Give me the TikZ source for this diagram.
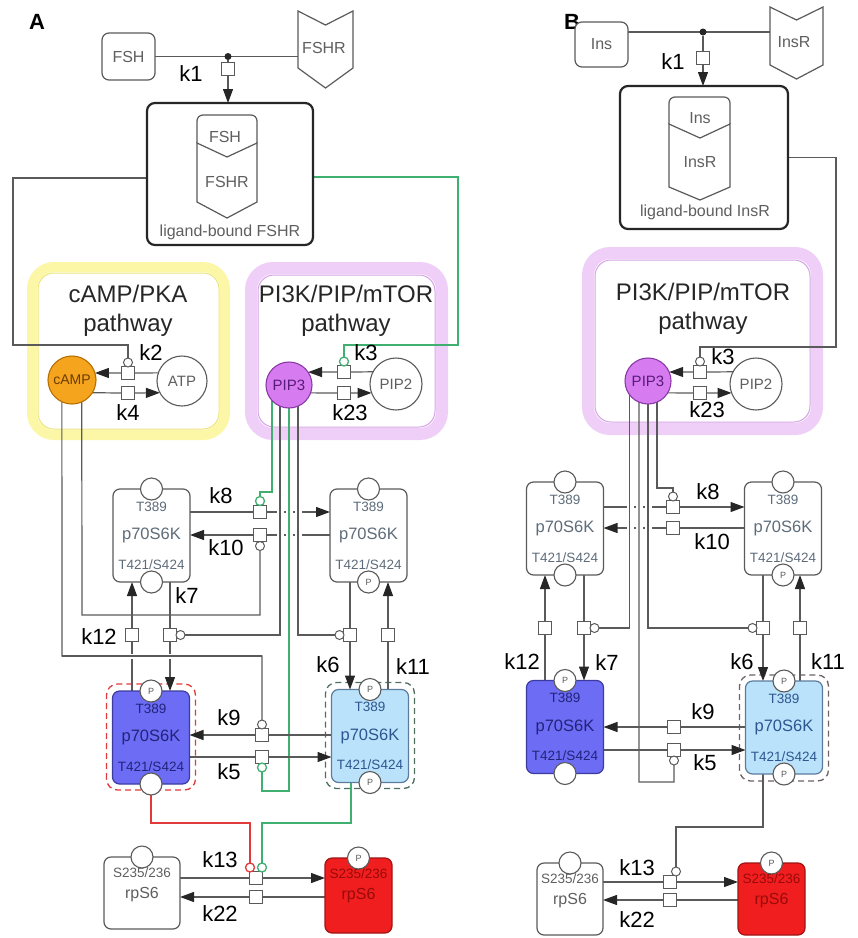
\documentclass[tikz,border=0pt]{standalone}
\usepackage{fontspec}
\setmainfont{Liberation Sans}
\usetikzlibrary{arrows.meta}
\pgfdeclarelayer{bgl}
\pgfdeclarelayer{edges}
\pgfsetlayers{bgl,edges,main}
\definecolor{ln}{HTML}{5A5A5A}
\definecolor{tx}{HTML}{5F5F5F}
\definecolor{kgt}{HTML}{5E6C7A}
\definecolor{gr}{HTML}{40B070}
\definecolor{rd}{HTML}{E03A3A}
\definecolor{orng}{HTML}{F5A41E}
\definecolor{orngd}{HTML}{B86E00}
\definecolor{orngt}{HTML}{6B3D00}
\definecolor{vio}{HTML}{D67CF0}
\definecolor{viod}{HTML}{8A3AA6}
\definecolor{viot}{HTML}{5A1A7A}
\definecolor{dblue}{HTML}{6C6CF4}
\definecolor{dblued}{HTML}{3C3CA0}
\definecolor{dbluet}{HTML}{23237A}
\definecolor{lblue}{HTML}{BAE3FB}
\definecolor{lblued}{HTML}{5C7C9C}
\definecolor{lbluet}{HTML}{2D5590}
\definecolor{rpred}{HTML}{F01E1E}
\definecolor{rpredd}{HTML}{A01414}
\definecolor{rpredt}{HTML}{9A0A0A}
\definecolor{ylband}{HTML}{FBF7A6}
\definecolor{ylline}{HTML}{EDE47A}
\definecolor{puband}{HTML}{EFCFF7}
\definecolor{puline}{HTML}{D3A1E4}
\definecolor{dashA}{HTML}{4E6E5E}
\definecolor{dashB}{HTML}{6E6262}

\newcommand{\kinbox}[8]{%
  \node[kbox,fill=#4,draw=#5,text=#6] (#1) at (#2,#3) {p70S6K};
  \node[ksmall,text=#6] (#1-a) at ([yshift=-17.5pt]#1.north) {T389};
  \node[ksmall,text=#6] (#1-b) at ([yshift=17.5pt]#1.south) {T421/S424};
  \node[pc] (#1-t) at (#1.north) {#7};
  \node[pc] (#1-s) at (#1.south) {#8};
}

\begin{document}
\begin{tikzpicture}[x=1pt,y=-1pt,
  every node/.style={inner sep=0pt,outer sep=0pt},
  conn/.style={draw=ln,line width=1.2pt},
  gconn/.style={draw=gr,line width=1.6pt},
  rconn/.style={draw=rd,line width=1.6pt},
  arr/.style={-{Triangle[length=14pt,width=10pt,color=black!85]}},
  sq/.style={rectangle,draw=ln,fill=white,minimum size=13pt,line width=1pt},
  md/.style={circle,draw=ln,fill=white,minimum size=9pt,line width=1pt},
  kl/.style={font=\fontsize{22}{22}\selectfont,text=black},
  sbox/.style={rectangle,rounded corners=7pt,draw=ln,fill=white,line width=1.2pt,text=tx,font=\fontsize{16}{16}\selectfont},
  stxt/.style={text=tx,font=\fontsize{16}{16}\selectfont},
  lbox/.style={rectangle,rounded corners=8pt,draw=black!85,fill=white,line width=2.2pt},
  cplx/.style={draw=ln,fill=white,line width=1.2pt},
  sc/.style={circle,draw=ln,fill=white,line width=1.1pt,text=tx,font=\fontsize{15}{15}\selectfont},
  kbox/.style={rectangle,rounded corners=7pt,minimum width=77pt,minimum height=93pt,line width=1.2pt,font=\fontsize{16.5}{16.5}\selectfont},
  ksmall/.style={font=\fontsize{13.5}{13.5}\selectfont},
  pc/.style={circle,draw=ln,fill=white,minimum size=22pt,line width=1.1pt,font=\fontsize{9}{9}\selectfont,text=ln},
  cpt/.style={font=\fontsize{24}{29}\selectfont,text=black!85,align=center},
  panel/.style={font=\bfseries\fontsize{22}{22}\selectfont},
]
\useasboundingbox (0,0) rectangle (858,938);

% ---------------- compartments ----------------
\begin{pgfonlayer}{bgl}
\draw[draw=ylband,line width=10pt,rounded corners=22pt] (32,267) rectangle (225,435);
\draw[draw=ylline,line width=1pt,rounded corners=16pt] (38,273) rectangle (219,429);
\draw[draw=puband,line width=12pt,rounded corners=22pt] (251,268) rectangle (442,434);
\draw[draw=puline,line width=1pt,rounded corners=16pt] (258,275) rectangle (435,427);
\draw[draw=puband,line width=12pt,rounded corners=22pt] (588,253) rectangle (817,429);
\draw[draw=puline,line width=1pt,rounded corners=16pt] (595,260) rectangle (810,422);
\end{pgfonlayer}

% ================= PANEL A =================
\node[panel] (labA) at (37,22) {A};
\node[sbox,minimum width=53pt,minimum height=47pt] (fshA) at (128.5,56.5) {FSH};
\node[minimum width=55pt,minimum height=60pt] (fshrA) at (325.5,50) {};
\draw[cplx] (298,11) -- (325.5,25) -- (353,11) -- (353,68) -- (325.5,88) -- (298,68) -- cycle;
\node[stxt] (fshrAt) at (324,48) {FSHR};
\node[circle,fill=black!85,minimum size=7pt] (jA) at (228,56.5) {};
\node[sq] (k1A) at (228,69) {};
\node[kl] (k1Al) at (191,74) {k1};

\node[lbox,minimum width=166pt,minimum height=142pt] (lbA) at (230,174) {};
\draw[cplx,rounded corners=6pt] (197,143) -- (197,115) -- (257,115) -- (257,143);
\draw[cplx] (197,143) -- (227,157) -- (257,143) -- (257,202) -- (227,218) -- (197,202) -- cycle;
\node[stxt] (cfA1) at (225,137) {FSH};
\node[stxt] (cfA2) at (227,182) {FSHR};
\node[stxt] (lbAl) at (230,232) {ligand-bound FSHR};

\node[cpt] (cptA1) at (128,311) {cAMP/PKA\\pathway};
\node[cpt] (cptA2) at (346,311) {PI3K/PIP/mTOR\\pathway};

\node[sc,minimum size=48pt,fill=orng,draw=orngd,text=orngt,font=\fontsize{14}{14}\selectfont] (campA) at (72,380) {cAMP};
\node[sc,minimum size=50pt] (atpA) at (182,381) {ATP};
\node[sc,minimum size=46pt,fill=vio,draw=viod,text=viot] (pip3A) at (289,385) {PIP3};
\node[sc,minimum size=52pt] (pip2A) at (396,384) {PIP2};

\node[sq] (k2A) at (128,373) {};
\node[sq] (k4A) at (128,393) {};
\node[md] (k2mA) at (128,362.5) {};
\node[sq] (k3A) at (344,372) {};
\node[sq] (k23A) at (344,393) {};
\node[md,draw=gr,line width=1.3pt] (k3mA) at (344,361.5) {};
\node[kl] (k2Al) at (151,353) {k2};
\node[kl] (k4Al) at (128,413) {k4};
\node[kl] (k3Al) at (366,353) {k3};
\node[kl] (k23Al) at (350,413) {k23};

\kinbox{ulA}{151.5}{535.5}{white}{ln}{kgt}{}{}
\kinbox{urA}{368.5}{535.5}{white}{ln}{kgt}{}{P}
\kinbox{llA}{151}{737.5}{dblue}{dblued}{dbluet}{P}{}
\kinbox{lrA}{370}{736}{lblue}{lblued}{lbluet}{P}{P}

\node[sq] (k8A) at (260,512) {};
\node[sq] (k10A) at (260,535) {};
\node[md,draw=gr,line width=1.3pt] (k8mA) at (260,501) {};
\node[md] (k10mA) at (260,546) {};
\node[sq] (k12A) at (132,635) {};
\node[sq] (k7A) at (170,635) {};
\node[md] (k7mA) at (180.5,635) {};
\node[sq] (k6A) at (350,635) {};
\node[md] (k6mA) at (339.5,635) {};
\node[sq] (k11A) at (388,635) {};
\node[sq] (k9A) at (262,735) {};
\node[sq] (k5A) at (262,757) {};
\node[md] (k9mA) at (262,724.5) {};
\node[md,draw=gr,line width=1.3pt] (k5mA) at (262,767.5) {};

\node[kl] (k8Al) at (221,496) {k8};
\node[kl] (k10Al) at (226,548) {k10};
\node[kl] (k7Al) at (187,596) {k7};
\node[kl] (k12Al) at (99,637) {k12};
\node[kl] (k6Al) at (328,665) {k6};
\node[kl] (k11Al) at (413,667) {k11};
\node[kl] (k9Al) at (229,718) {k9};
\node[kl] (k5Al) at (229,772) {k5};

% rpS6 A
\node[rectangle,rounded corners=7pt,draw=ln,fill=white,line width=1.2pt,minimum width=76pt,minimum height=72pt] (rpwA) at (142,893) {};
\node[ksmall,text=tx] (rpwAa) at ([yshift=-16pt]rpwA.north) {S235/236};
\node[stxt] (rpwAb) at ([yshift=-38pt]rpwA.north) {rpS6};
\node[pc] (rpwAt) at (rpwA.north) {};
\node[rectangle,rounded corners=7pt,draw=rpredd,fill=rpred,line width=1.2pt,minimum width=67pt,minimum height=75pt] (rprA) at (358.5,895.5) {};
\node[ksmall,text=rpredt] (rprAa) at ([yshift=-16pt]rprA.north) {S235/236};
\node[stxt,text=rpredt] (rprAb) at ([yshift=-38pt]rprA.north) {rpS6};
\node[pc] (rprAt) at (rprA.north) {P};
\node[sq] (k13A) at (256,878) {};
\node[sq] (k22A) at (256,897) {};
\node[md,draw=rd,line width=1.3pt] (k13rA) at (250,867.5) {};
\node[md,draw=gr,line width=1.3pt] (k13gA) at (262,867.5) {};
\node[kl] (k13Al) at (220,860) {k13};
\node[kl] (k22Al) at (220,914) {k22};

% ================= PANEL B =================
\node[panel] (labB) at (572,22) {B};
\node[sbox,minimum width=53pt,minimum height=45pt] (insB) at (601.5,44.5) {Ins};
\node[minimum width=53pt,minimum height=60pt] (insrB) at (796.5,42) {};
\draw[cplx] (770,7) -- (796.5,20) -- (823,7) -- (823,65) -- (796.5,79) -- (770,65) -- cycle;
\node[stxt] (insrBt) at (794,42) {InsR};
\node[circle,fill=black!85,minimum size=7pt] (jB) at (703,32) {};
\node[sq] (k1B) at (703,58) {};
\node[kl] (k1Bl) at (673,62) {k1};

\node[lbox,minimum width=168pt,minimum height=143pt] (lbB) at (704,157.5) {};
\draw[cplx,rounded corners=6pt] (669,124) -- (669,97) -- (730,97) -- (730,124);
\draw[cplx] (669,124) -- (700,138) -- (730,124) -- (730,187) -- (700,200) -- (669,187) -- cycle;
\node[stxt] (cfB1) at (700,118) {Ins};
\node[stxt] (cfB2) at (700,162) {InsR};
\node[stxt] (lbBl) at (705,212) {ligand-bound InsR};

\node[cpt] (cptB) at (703,309) {PI3K/PIP/mTOR\\pathway};
\node[sc,minimum size=46pt,fill=vio,draw=viod,text=viot] (pip3B) at (648,381) {PIP3};
\node[sc,minimum size=52pt] (pip2B) at (756,384) {PIP2};
\node[sq] (k3B) at (700,372) {};
\node[sq] (k23B) at (700,393) {};
\node[md] (k3mB) at (700,361.5) {};
\node[kl] (k3Bl) at (723,357) {k3};
\node[kl] (k23Bl) at (707,410) {k23};

\kinbox{ulB}{565}{528.5}{white}{ln}{kgt}{}{}
\kinbox{urB}{783}{528.5}{white}{ln}{kgt}{}{P}
\kinbox{llB}{565}{727}{dblue}{dblued}{dbluet}{P}{}
\kinbox{lrB}{784}{727.5}{lblue}{lblued}{lbluet}{P}{P}

\node[sq] (k8B) at (673,507) {};
\node[sq] (k10B) at (673,528) {};
\node[md] (k8mB) at (673,496.5) {};
\node[sq] (k12B) at (545,628) {};
\node[sq] (k7B) at (584,628) {};
\node[md] (k7mB) at (594.5,628) {};
\node[sq] (k6B) at (763,628) {};
\node[md] (k6mB) at (752.5,628) {};
\node[sq] (k11B) at (800,628) {};
\node[sq] (k9B) at (674,727) {};
\node[sq] (k5B) at (674,750) {};
\node[md] (k5mB) at (674,760.5) {};

\node[kl] (k8Bl) at (708,492) {k8};
\node[kl] (k10Bl) at (712,542) {k10};
\node[kl] (k12Bl) at (522,662) {k12};
\node[kl] (k7Bl) at (607,663) {k7};
\node[kl] (k6Bl) at (742,662) {k6};
\node[kl] (k11Bl) at (828,662) {k11};
\node[kl] (k9Bl) at (703,712) {k9};
\node[kl] (k5Bl) at (705,763) {k5};

\node[rectangle,rounded corners=7pt,draw=ln,fill=white,line width=1.2pt,minimum width=66pt,minimum height=72pt] (rpwB) at (570,899) {};
\node[ksmall,text=tx] (rpwBa) at ([yshift=-16pt]rpwB.north) {S235/236};
\node[stxt] (rpwBb) at ([yshift=-38pt]rpwB.north) {rpS6};
\node[pc] (rpwBt) at (rpwB.north) {};
\node[rectangle,rounded corners=7pt,draw=rpredd,fill=rpred,line width=1.2pt,minimum width=67pt,minimum height=72pt] (rprB) at (771.5,899) {};
\node[ksmall,text=rpredt] (rprBa) at ([yshift=-16pt]rprB.north) {S235/236};
\node[stxt,text=rpredt] (rprBb) at ([yshift=-38pt]rprB.north) {rpS6};
\node[pc] (rprBt) at (rprB.north) {P};
\node[sq] (k13B) at (670,882) {};
\node[sq] (k22B) at (670,900) {};
\node[md] (k13mB) at (676,871.5) {};
\node[kl] (k13Bl) at (637,868) {k13};
\node[kl] (k22Bl) at (637,920) {k22};

% ================= CONNECTORS =================
\begin{pgfonlayer}{edges}
% dashed outlines
\draw[draw=rd,line width=1.3pt,dash pattern=on 6pt off 4pt,rounded corners=11pt] ([shift={(-6pt,-6pt)}]llA.south west) rectangle ([shift={(6pt,7pt)}]llA.north east);
\draw[draw=dashA,line width=1.3pt,dash pattern=on 6pt off 4pt,rounded corners=11pt] ([shift={(-6pt,-6pt)}]lrA.south west) rectangle ([shift={(6pt,7pt)}]lrA.north east);
\draw[draw=dashB,line width=1.3pt,dash pattern=on 6pt off 4pt,rounded corners=11pt] ([shift={(-6pt,-7pt)}]lrB.south west) rectangle ([shift={(6pt,6pt)}]lrB.north east);

% ---- A ----
\draw[conn] (fshA.east) -- (fshA.east -| fshrA.west);
\draw[conn] (jA) -- (k1A.north);
\draw[conn,arr] (k1A.south) -- (k1A.south |- lbA.north);
\draw[conn] ([yshift=-4pt]lbA.west) -- (13,178) -- (13,345) -- (128,345) -- (k2mA.north);
\draw[gconn] ([yshift=-3pt]lbA.east) -- (458,177) -- (458,345) -- (344,345) -- (k3mA.north);
\draw[conn] (atpA.161.3) -- (k2A.east);
\draw[conn,arr] (k2A.west) -- (campA.17);
\draw[conn] (campA.-32.8) -- (k4A.west);
\draw[conn,arr] (k4A.east) -- (atpA.208.7);
\draw[conn] (pip2A.152.5) -- (k3A.east);
\draw[conn,arr] (k3A.west) -- (pip3A.34.4);
\draw[conn] (pip3A.-20.4) -- (k23A.west);
\draw[conn,arr] (k23A.east) -- (pip2A.200.3);

\draw[conn] (k8A.west) -- (k8A.west -| ulA.east);
\draw[conn,arr] (k8A.east) -- (k8A.east -| urA.west);
\draw[conn] (k10A.east) -- (k10A.east -| urA.west);
\draw[conn,arr] (k10A.west) -- (k10A.west -| ulA.east);
\draw[white,line width=7pt] (280,504) -- (280,543) (289,504) -- (289,543) (298,504) -- (298,543);

\draw[gconn] (pip3A.222.4) |- (260,492) -- (k8mA.north);
\draw[conn] (pip3A.247) |- (k7mA.east);
\draw[gconn] (pip3A.270) -- (289,791) -- (262,791) -- (k5mA.south);
\draw[conn] (pip3A.293) |- (k6mA.west);

\draw[conn] (k12A.south) -- (k12A.south |- llA.north);
\draw[conn,arr] (k12A.north) -- (k12A.north |- ulA.south);
\draw[conn] (k7A.north) -- (k7A.north |- ulA.south);
\draw[conn,arr] (k7A.south) -- (k7A.south |- llA.north);
\draw[conn] (k6A.north) -- (k6A.north |- urA.south);
\draw[conn,arr] (k6A.south) -- (k6A.south |- lrA.north);
\draw[conn] (k11A.south) -- (k11A.south |- lrA.north);
\draw[conn,arr] (k11A.north) -- (k11A.north |- urA.south);

\draw[conn] (campA.294.6) -- (82,615) -- (260,615) -- (k10mA.south);
\draw[conn,preaction={draw=white,line width=5pt}] (62,656) -- (262,656);
\draw[conn] (campA.245.4) -- (62,656) -- (262,656) -- (k9mA.north);

\draw[conn] (k9A.east) -- (k9A.east -| lrA.west);
\draw[conn,arr] (k9A.west) -- (k9A.west -| llA.east);
\draw[conn] (k5A.west) -- (k5A.west -| llA.east);
\draw[conn,arr] (k5A.east) -- (k5A.east -| lrA.west);

\draw[rconn] (llA-s.south) |- (250,823) -- (k13rA.north);
\draw[gconn] ([xshift=-19pt]lrA.south) |- (262,823) -- (k13gA.north);
\draw[conn] (k13A.west) -- (k13A.west -| rpwA.east);
\draw[conn,arr] (k13A.east) -- (k13A.east -| rprA.west);
\draw[conn] (k22A.east) -- (k22A.east -| rprA.west);
\draw[conn,arr] (k22A.west) -- (k22A.west -| rpwA.east);

% ---- B ----
\draw[conn] (insB.east |- jB) -- (jB -| insrB.west);
\draw[conn] (jB) -- (k1B.north);
\draw[conn,arr] (k1B.south) -- (k1B.south |- lbB.north);
\draw[conn] (lbB.east) -- (836,157.5) -- (836,347) -- (700,347) -- (k3mB.north);
\draw[conn] (pip2B.152.5) -- (k3B.east);
\draw[conn,arr] (k3B.west) -- (pip3B.23);
\draw[conn] (pip3B.-31.4) -- (k23B.west);
\draw[conn,arr] (k23B.east) -- (pip2B.200.3);

\draw[conn] (k8B.west) -- (k8B.west -| ulB.east);
\draw[conn,arr] (k8B.east) -- (k8B.east -| urB.west);
\draw[conn] (k10B.east) -- (k10B.east -| urB.west);
\draw[conn,arr] (k10B.west) -- (k10B.west -| ulB.east);
\draw[white,line width=7pt] (630,499) -- (630,536) (639,499) -- (639,536) (648,499) -- (648,536);

\draw[conn] (pip3B.218.5) |- (k7mB.east);
\draw[conn] (pip3B.247) -- (639,782) -- (674,782) -- (k5mB.south);
\draw[conn] (pip3B.270) |- (k6mB.west);
\draw[conn] (pip3B.293) |- (673,488) -- (k8mB.north);

\draw[conn] (k12B.south) -- (k12B.south |- llB.north);
\draw[conn,arr] (k12B.north) -- (k12B.north |- ulB.south);
\draw[conn] (k7B.north) -- (k7B.north |- ulB.south);
\draw[conn,arr] (k7B.south) -- (k7B.south |- llB.north);
\draw[conn] (k6B.north) -- (k6B.north |- urB.south);
\draw[conn,arr] (k6B.south) -- (k6B.south |- lrB.north);
\draw[conn] (k11B.south) -- (k11B.south |- lrB.north);
\draw[conn,arr] (k11B.north) -- (k11B.north |- urB.south);

\draw[conn] (k9B.east) -- (k9B.east -| lrB.west);
\draw[conn,arr] (k9B.west) -- (k9B.west -| llB.east);
\draw[conn] (k5B.west) -- (k5B.west -| llB.east);
\draw[conn,arr] (k5B.east) -- (k5B.east -| lrB.west);

\draw[conn] ([xshift=-21pt]lrB.south) |- (676,827) -- (k13mB.north);
\draw[conn] (k13B.west) -- (k13B.west -| rpwB.east);
\draw[conn,arr] (k13B.east) -- (k13B.east -| rprB.west);
\draw[conn] (k22B.east) -- (k22B.east -| rprB.west);
\draw[conn,arr] (k22B.west) -- (k22B.west -| rpwB.east);
\end{pgfonlayer}
\end{tikzpicture}
\end{document}
